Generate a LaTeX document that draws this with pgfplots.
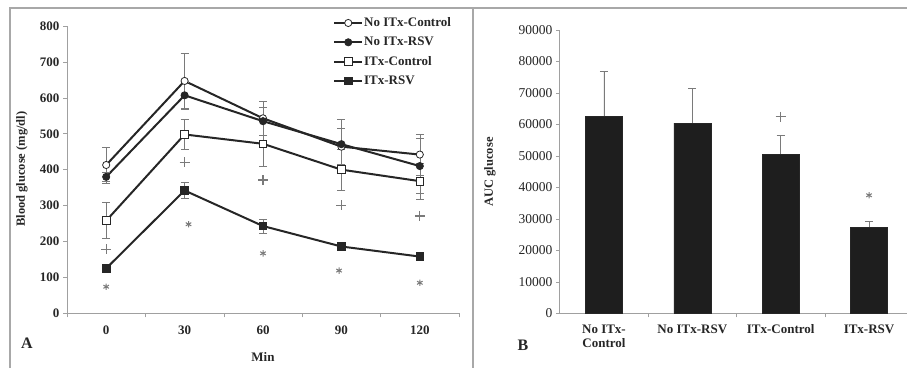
\documentclass[border=0pt]{standalone}
\usepackage{fontspec}
\setmainfont{Liberation Serif}
\usepackage{pgfplots}
\usepackage{pgfplotstable}
\pgfplotsset{compat=1.18}
\definecolor{ln}{HTML}{262626}
\definecolor{ax}{HTML}{A0A0A0}
\definecolor{fr}{HTML}{A8A8A8}
\definecolor{sig}{HTML}{7A7A7A}
\definecolor{barc}{HTML}{1E1E1E}

\pgfplotstableread{
x y e
0 413 50
1 647 78
2 543 46
3 464 50
4 442 57
}\NC
\pgfplotstableread{
x y e
0 380 12
1 607 35
2 535 40
3 471 68
4 410 77
}\NR
\pgfplotstableread{
x y e
0 258 50
1 498 41
2 472 64
3 400 57
4 368 51
}\IC
\pgfplotstableread{
x y e
0 125 12
1 342 23
2 243 20
3 186 8
4 158 6
}\IR

\begin{document}
\begin{tikzpicture}[x=1pt,y=1pt]
\useasboundingbox (0,0) rectangle (907,368);
\draw[fr, line width=1.2pt] (10,0) -- (10,360) -- (907,360);
\draw[fr, line width=1.2pt] (473,360) -- (473,0);

\begin{axis}[
  at={(67pt,54.7pt)}, anchor=south west, scale only axis,
  width=392pt, height=287.3pt,
  xmin=-0.5, xmax=4.5, ymin=0, ymax=800,
  axis x line*=bottom, axis y line*=left,
  axis line style={ax, line width=0.8pt},
  xtick={0,...,4}, xticklabels={0,30,60,90,120},
  major x tick style={draw=none},
  minor xtick={-0.5,0.5,...,4.5},
  ytick={0,100,...,800},
  tick align=outside, major tick length=4pt, minor tick length=4pt,
  tick style={ax, line width=0.6pt},
  /pgf/number format/assume math mode=true,
  ticklabel style={font=\bfseries\fontsize{13}{15}\selectfont, text=ln},
  xticklabel style={yshift=-5pt},
  xlabel={Min}, ylabel={Blood glucose (mg/dl)},
  xlabel style={at={(axis description cs:0.5,-0.152)}, anchor=center, font=\bfseries\fontsize{13}{15}\selectfont, text=ln},
  ylabel style={at={(axis description cs:-0.115,0.502)}, anchor=center, rotate=0, font=\bfseries\fontsize{12.5}{14}\selectfont, text=ln},
  legend style={at={(axis description cs:0.679,1.033)}, anchor=north west, draw=none, fill=none,
    font=\bfseries\fontsize{13}{15}\selectfont, text=ln, row sep=7pt, inner sep=0pt,
    nodes={inner sep=1pt}},
  legend cell align=left,
  legend image code/.code={\draw[line width=1.8pt, mark repeat=2,mark phase=2] plot coordinates {(0pt,0pt) (14pt,0pt) (28pt,0pt)};},
  every axis plot/.append style={line width=2pt, ln},
  error bars/error bar style={sig, line width=0.6pt},
  error bars/error mark options={rotate=90, mark size=4pt, sig, line width=0.6pt},
]
\addplot[mark=*, mark size=3.6pt, mark options={fill=white, draw=ln, line width=0.8pt},
  error bars/.cd, y dir=both, y explicit] table[x=x, y=y, y error=e] {\NC};
\addlegendentry{No ITx-Control}
\addplot[mark=*, mark size=3.6pt, mark options={fill=ln, draw=ln, line width=0.8pt},
  error bars/.cd, y dir=both, y explicit] table[x=x, y=y, y error=e] {\NR};
\addlegendentry{No ITx-RSV}
\addplot[mark=square*, mark size=3.8pt, mark options={fill=white, draw=ln, line width=0.8pt},
  error bars/.cd, y dir=both, y explicit] table[x=x, y=y, y error=e] {\IC};
\addlegendentry{ITx-Control}
\addplot[mark=square*, mark size=3.8pt, mark options={fill=ln, draw=ln, line width=0.8pt},
  error bars/.cd, y dir=both, y explicit] table[x=x, y=y, y error=e] {\IR};
\addlegendentry{ITx-RSV}
\addplot[forget plot, only marks, mark=+, mark size=5pt, sig, line width=1.2pt]
  coordinates {(0,178) (1,421) (2,371) (3,301) (4,271)};
\addplot[forget plot, only marks, mark=asterisk, mark size=3.2pt, sig, line width=1pt]
  coordinates {(0,74) (1.05,248) (2,167) (2.97,119) (4,85)};
\end{axis}

\begin{axis}[
  at={(559.8pt,54.7pt)}, anchor=south west, scale only axis,
  width=353.4pt, height=283.3pt,
  xmin=-0.5, xmax=3.5, ymin=0, ymax=90000,
  axis x line*=bottom, axis y line*=left,
  axis line style={ax, line width=0.8pt},
  xtick={0,1,2,3},
  xticklabels={{No ITx-\\Control}, No ITx-RSV, ITx-Control, ITx-RSV},
  major x tick style={draw=none},
  minor xtick={0.5,1.5,2.5,3.5},
  ytick={0,10000,...,90000},
  scaled y ticks=false,
  tick align=outside, major tick length=4pt, minor tick length=4pt,
  tick style={ax, line width=0.6pt},
  /pgf/number format/assume math mode=true,
  /pgf/number format/1000 sep={},
  yticklabel style={font=\fontsize{13.5}{15}\selectfont, text=ln},
  xticklabel style={font=\bfseries\fontsize{13}{14}\selectfont, text=ln, align=center, yshift=-4pt},
  ylabel={AUC glucose},
  ylabel style={at={(axis description cs:-0.1975,0.499)}, anchor=center, font=\bfseries\fontsize{12.5}{14}\selectfont, text=ln},
]
\addplot[ybar, bar width=37pt, fill=barc, draw=ln, line width=0.6pt,
  error bars/.cd, y dir=plus, y explicit,
  error bar style={sig, line width=0.6pt},
  error mark options={rotate=90, mark size=4pt, sig, line width=0.6pt}]
  coordinates {(0,62600) +- (0,14300) (1,60400) +- (0,11100) (2,50600) +- (0,6000) (3,27400) +- (0,1900)};
\addplot[only marks, mark=+, mark size=5pt, sig, line width=1.2pt] coordinates {(2,62400)};
\addplot[only marks, mark=asterisk, mark size=3.2pt, sig, line width=1pt] coordinates {(3,37500)};
\end{axis}

\node[font=\bfseries\fontsize{16}{18}\selectfont, text=ln] at (27,25) {A};
\node[font=\bfseries\fontsize{16}{18}\selectfont, text=ln] at (523,23) {B};
\end{tikzpicture}
\end{document}
